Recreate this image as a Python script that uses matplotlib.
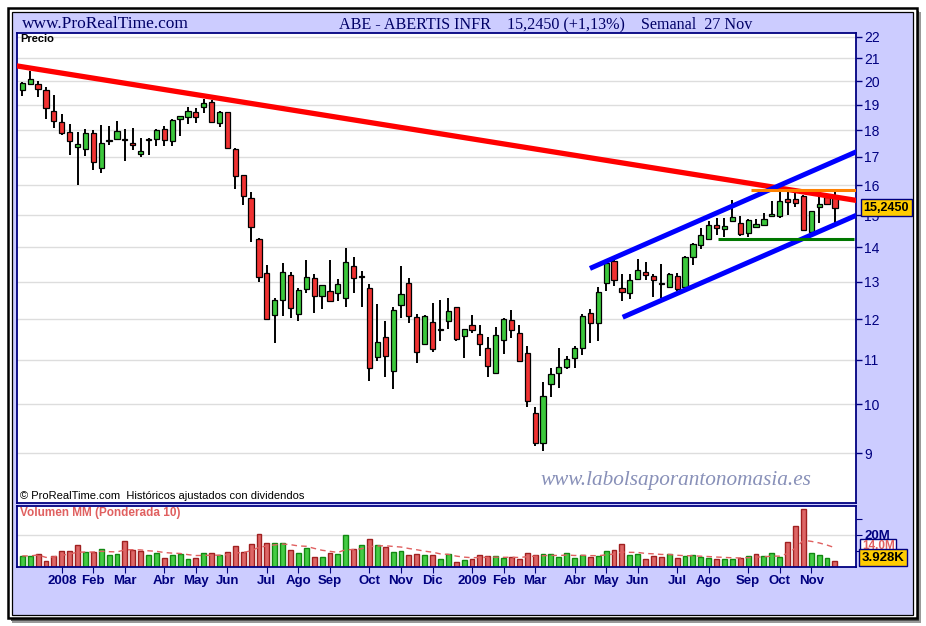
import numpy as np
import pandas as pd
import matplotlib
matplotlib.use('Agg')
import matplotlib.pyplot as plt
from matplotlib.patches import Rectangle
from matplotlib.ticker import NullLocator, FixedLocator, FixedFormatter
from matplotlib import transforms

# ABE - Abertis Infraestructuras, velas semanales (semana del 3 dic 2007 a la del 23 nov 2009)
first_week = '2007-12-03'
open_ = [19.62, 19.86, 19.86, 19.61, 18.75, 18.31, 17.92, 17.35, 17.28, 17.88,
         16.59, 17.57, 17.68, 17.68, 17.50, 17.10, 17.62, 17.68, 18.04, 17.57,
         18.43, 18.50, 18.70, 18.91, 19.10, 18.27, 18.70, 17.29, 16.34, 15.56,
         14.25, 13.24, 12.10, 12.50, 13.19, 12.13, 12.81, 13.11, 12.62, 12.75,
         12.69, 12.55, 13.44, 13.17, 12.83, 11.06, 11.56, 10.73, 12.36, 12.97,
         12.05, 11.37, 11.92, 11.74, 11.96, 12.31, 11.57, 11.85, 11.63, 11.28,
         10.70, 11.47, 11.98, 11.66, 11.15, 9.81, 9.21, 10.44, 10.69, 10.83,
         11.04, 11.27, 12.16, 11.90, 12.98, 13.60, 12.84, 12.69, 13.08, 13.28,
         13.16, 12.94, 12.86, 13.17, 12.87, 13.71, 14.06, 14.25, 14.70, 14.57,
         14.80, 14.76, 14.43, 14.62, 14.68, 14.97, 14.98, 15.52, 15.52, 15.64,
         14.48, 15.28, 15.60, 15.64]
high = [19.94, 20.44, 20.01, 19.76, 19.41, 18.63, 18.23, 17.92, 18.04, 18.01,
        18.19, 18.16, 18.36, 18.04, 18.09, 17.70, 17.70, 18.06, 18.15, 18.42,
        18.55, 18.90, 18.86, 19.23, 19.20, 18.75, 18.71, 17.31, 16.35, 15.77,
        14.27, 13.49, 12.56, 13.53, 13.27, 12.83, 13.63, 13.23, 12.92, 13.63,
        13.08, 13.97, 13.70, 13.31, 12.95, 12.41, 11.95, 12.31, 13.44, 13.11,
        12.13, 12.10, 12.42, 12.51, 12.55, 12.33, 11.76, 12.11, 11.84, 11.54,
        11.79, 12.02, 12.24, 11.85, 11.33, 9.94, 10.48, 10.80, 11.29, 11.09,
        11.33, 12.14, 12.26, 12.86, 13.57, 13.62, 13.23, 13.23, 13.66, 13.57,
        13.23, 13.51, 13.24, 13.26, 13.73, 14.12, 14.58, 14.82, 14.92, 14.91,
        15.50, 14.98, 14.87, 14.89, 15.08, 15.47, 15.75, 15.84, 15.78, 15.66,
        15.15, 15.64, 15.71, 15.79]
low = [19.38, 19.84, 19.34, 18.45, 18.09, 17.82, 17.07, 16.01, 17.04, 16.53,
       16.43, 17.44, 17.64, 16.86, 17.25, 16.98, 17.08, 17.38, 17.38, 17.41,
       17.78, 18.25, 18.29, 18.68, 18.29, 18.14, 17.30, 15.85, 15.34, 14.16,
       13.00, 11.99, 11.41, 12.09, 12.04, 11.96, 12.69, 12.16, 12.26, 12.44,
       12.48, 12.31, 12.69, 12.33, 10.50, 10.97, 10.60, 10.34, 12.04, 11.91,
       10.93, 11.35, 11.18, 11.44, 11.76, 11.46, 11.04, 11.66, 11.09, 10.60,
       10.66, 11.14, 11.52, 10.96, 9.93, 9.15, 9.04, 10.15, 10.35, 10.79,
       10.80, 11.12, 11.40, 11.46, 12.74, 12.89, 12.47, 12.53, 13.06, 13.06,
       12.59, 12.55, 12.84, 12.76, 12.83, 13.49, 13.95, 14.22, 14.37, 14.31,
       14.78, 14.33, 14.31, 14.60, 14.66, 14.94, 14.91, 15.02, 15.25, 14.50,
       14.45, 14.76, 15.35, 14.76]
close = [19.90, 20.07, 19.65, 18.89, 18.35, 17.90, 17.59, 17.49, 17.88, 16.81,
         17.50, 17.62, 17.97, 17.62, 17.43, 17.20, 17.68, 18.01, 17.62, 18.40,
         18.54, 18.75, 18.53, 19.07, 18.31, 18.71, 17.34, 16.31, 15.63, 14.62,
         13.15, 12.00, 12.51, 13.27, 12.28, 12.78, 13.13, 12.62, 12.91, 12.47,
         12.94, 13.56, 13.12, 13.14, 10.81, 11.42, 11.10, 12.23, 12.66, 12.09,
         11.18, 12.09, 11.25, 11.73, 12.22, 11.51, 11.75, 11.72, 11.39, 10.86,
         11.59, 12.00, 11.73, 10.98, 10.07, 9.21, 10.18, 10.66, 10.83, 11.01,
         11.27, 12.09, 11.90, 12.73, 13.54, 13.04, 12.73, 13.06, 13.34, 13.19,
         13.04, 12.97, 13.23, 12.81, 13.71, 14.09, 14.38, 14.69, 14.59, 14.66,
         14.94, 14.40, 14.85, 14.72, 14.88, 15.04, 15.47, 15.43, 15.40, 14.53,
         15.13, 15.35, 15.37, 15.245]
# volumen semanal en millones de acciones
volume = [6.9, 6.9, 8.1, 3.7, 6.9, 10.0, 10.0, 13.7, 9.4, 9.4,
          11.2, 7.5, 8.1, 16.2, 10.6, 10.0, 7.5, 8.7, 5.6, 7.5,
          8.1, 5.0, 5.6, 8.7, 8.7, 7.5, 9.4, 13.1, 9.4, 14.4,
          20.6, 15.0, 15.0, 15.0, 10.6, 8.7, 11.9, 6.2, 6.2, 8.7,
          8.1, 20.0, 11.2, 13.7, 17.5, 13.7, 12.5, 9.4, 10.0, 7.5,
          8.1, 7.5, 7.5, 5.0, 8.1, 3.1, 4.4, 5.0, 7.5, 6.9,
          6.9, 5.6, 6.2, 5.0, 8.7, 7.5, 8.1, 8.1, 6.2, 8.7,
          5.6, 7.5, 6.2, 6.9, 10.0, 10.6, 14.4, 7.5, 8.1, 5.0,
          6.9, 6.2, 8.1, 5.6, 6.9, 7.5, 6.2, 5.6, 5.0, 5.0,
          5.0, 5.6, 6.9, 8.1, 6.9, 8.7, 6.2, 15.6, 25.6, 36.2,
          8.7, 7.5, 5.6, 3.928]

# lineas dibujadas a mano (indice de vela, precio)
resistencia_x = [-0.71, 105.75]
resistencia_y = [20.66, 15.48]
canal_sup_x = [71.95, 105.75]
canal_sup_y = [13.38, 17.19]
canal_inf_x = [76.1, 105.75]
canal_inf_y = [12.05, 15.00]
techo_x = [92.4, 105.75]
techo_y = [15.84, 15.84]
suelo_x = [88.2, 105.4]
suelo_y = [14.25, 14.25]

price_ticks = list(range(9, 23))
meses = ['Ene', 'Feb', 'Mar', 'Abr', 'May', 'Jun', 'Jul', 'Ago', 'Sep', 'Oct', 'Nov', 'Dic']
last_price_label = '15,2450'
last_vol_label = '3.928K'
ma_label = '14.0M'

plt.rcParams['font.family'] = ['Liberation Sans', 'DejaVu Sans']

NAVY = '#000080'
LAV = '#CCCCFF'
W, H = 926, 626

fig = plt.figure(figsize=(W / 100, H / 100), dpi=100)
fig.patch.set_facecolor('white')


def box(x0, y0, x1, y1, **kw):
    r = Rectangle((x0 / W, 1 - y1 / H), (x1 - x0) / W, (y1 - y0) / H,
                  transform=fig.transFigure, **kw)
    fig.patches.append(r)
    return r


# marco con sombra (detras de los ejes)
box(12, 12, 921, 623, facecolor='#999999', edgecolor='none', zorder=-3)
box(11, 11, 919, 621, facecolor='#555555', edgecolor='none', zorder=-3)
box(8, 8, 916.5, 618, facecolor='white', edgecolor='black', lw=1.8, zorder=-2)
box(11.5, 11.5, 913, 614.5, facecolor=LAV, edgecolor='black', lw=0.9, zorder=-1)

fig.text(22 / W, 1 - 24 / H, 'www.ProRealTime.com', family='Liberation Serif',
         fontsize=12.5, color='#000066', va='center', ha='left')
fig.text(546 / W, 1 - 24 / H, 'ABE - ABERTIS INFR    15,2450 (+1,13%)    Semanal  27 Nov',
         family='Liberation Serif', fontsize=11.6, color='#000066', va='center', ha='center')

o = np.array(open_)
h = np.array(high)
l = np.array(low)
c = np.array(close)
v = np.array(volume)
n = len(c)
idx = np.arange(n)

# ---- panel de precio ----
ax = fig.add_axes([17 / W, 1 - 503 / H, 839 / W, 470 / H])
ax.set_yscale('log')
ax.set_ylim(8.09, 22.17)
ax.set_xlim(-0.67, 105.67)

for t in price_ticks:
    ax.axhline(t, color='#DDDDDD', lw=1, zorder=0)

up = c >= o
body_col = np.where(up, '#3CC83C', '#F03232')
ax.vlines(idx, l, h, color='black', lw=1.4, zorder=2)
bottoms = np.minimum(o, c)
heights = np.maximum(np.abs(c - o), 0.03)
ax.bar(idx, heights, bottom=bottoms, width=0.66, color=body_col,
       edgecolor='black', lw=0.9, zorder=3)

ax.plot(resistencia_x, resistencia_y, color='#FF0000', lw=3.8, zorder=4, solid_capstyle='butt')
ax.plot(canal_sup_x, canal_sup_y, color='#0000FF', lw=3.6, zorder=4, solid_capstyle='butt')
ax.plot(canal_inf_x, canal_inf_y, color='#0000FF', lw=3.6, zorder=4, solid_capstyle='butt')
ax.plot(techo_x, techo_y, color='#FF8000', lw=2.2, zorder=4, solid_capstyle='butt')
ax.plot(suelo_x, suelo_y, color='#007700', lw=2.2, zorder=4, solid_capstyle='butt')

ax.yaxis.tick_right()
ax.yaxis.set_major_locator(FixedLocator(price_ticks))
ax.yaxis.set_major_formatter(FixedFormatter([str(t) for t in price_ticks]))
ax.yaxis.set_minor_locator(NullLocator())
ax.tick_params(axis='y', direction='out', length=4, color=NAVY, labelcolor=NAVY,
               labelsize=10, pad=2, width=1)
ax.set_xticks([])
for s in ax.spines.values():
    s.set_color(NAVY)
    s.set_linewidth(1.3)

ax.text(0.004, 0.997, 'Precio', transform=ax.transAxes, fontsize=8, va='top', ha='left',
        fontweight='bold', color='black')
ax.text(0.003, 0.014, '\u00a9 ProRealTime.com  Históricos ajustados con dividendos',
        transform=ax.transAxes, fontsize=8, va='center', ha='left', color='black')
ax.text(0.785, 0.048, 'www.labolsaporantonomasia.es', transform=ax.transAxes,
        family='Liberation Serif', style='italic', fontsize=15.3, color='#8890B8',
        ha='center', va='center')

trans = transforms.blended_transform_factory(ax.transAxes, ax.transData)
ax.text(1.009, c[-1], last_price_label, transform=trans, fontsize=9, fontweight='bold',
        color='black', ha='left', va='center', clip_on=False, zorder=10,
        bbox=dict(boxstyle='square,pad=0.2', facecolor='#FFCC00', edgecolor=NAVY, lw=1))

# ---- panel de volumen ----
axv = fig.add_axes([17 / W, 1 - 567 / H, 839 / W, 61 / H])
axv.set_xlim(-0.67, 105.67)
axv.set_ylim(0, 38)
axv.axhline(20, color='#DDDDDD', lw=1, zorder=0)

vol_up = np.concatenate([[True], c[1:] >= c[:-1]])
axv.bar(idx, v, width=0.62, color=np.where(vol_up, '#44CC44', '#DD6666'),
        edgecolor=np.where(vol_up, '#118811', '#A02020'), lw=1, zorder=2)

wma = []
for i in range(n):
    win = v[max(0, i - 9):i + 1]
    w = np.arange(1, len(win) + 1)
    wma.append((win * w).sum() / w.sum())
axv.plot(idx, wma, color='#E06060', lw=1, dashes=(4, 3), zorder=3)

axv.text(0.004, 0.88, 'Volumen MM (Ponderada 10)', transform=axv.transAxes, fontsize=8.5,
         fontweight='bold', color='#E06060', va='center', ha='left')

axv.yaxis.tick_right()
axv.set_yticks([10, 20, 30])
axv.set_yticklabels(['', '20M', ''])
axv.tick_params(axis='y', direction='out', length=4, color=NAVY, labelcolor=NAVY,
                labelsize=9.5, pad=2)
for lab in axv.get_yticklabels():
    lab.set_fontweight('bold')

dates = pd.date_range(first_week, periods=n, freq='W-MON')
tick_idx, tick_lab = [], []
for i in range(1, n):
    if dates[i].month != dates[i - 1].month:
        tick_idx.append(i)
        tick_lab.append(str(dates[i].year) if dates[i].month == 1 else meses[dates[i].month - 1])
axv.set_xticks(tick_idx)
axv.set_xticklabels(tick_lab)
axv.tick_params(axis='x', direction='out', length=4, color=NAVY, labelcolor=NAVY,
                labelsize=9.5, pad=2)
for lab in axv.get_xticklabels():
    lab.set_fontweight('bold')
for s in axv.spines.values():
    s.set_color(NAVY)
    s.set_linewidth(1.3)

transv = transforms.blended_transform_factory(axv.transAxes, axv.transData)
axv.text(1.007, 13.0, ma_label, transform=transv, fontsize=8.5, fontweight='bold',
         color='#E06060', ha='left', va='center', clip_on=False,
         bbox=dict(boxstyle='square,pad=0.12', facecolor='white', edgecolor=NAVY, lw=1))
axv.text(1.007, 5.8, last_vol_label, transform=transv, fontsize=9.5, fontweight='bold',
         color='black', ha='left', va='center', clip_on=False, zorder=10,
         bbox=dict(boxstyle='square,pad=0.2', facecolor='#FFCC00', edgecolor=NAVY, lw=1))

fig.savefig('out.png', dpi=100)
